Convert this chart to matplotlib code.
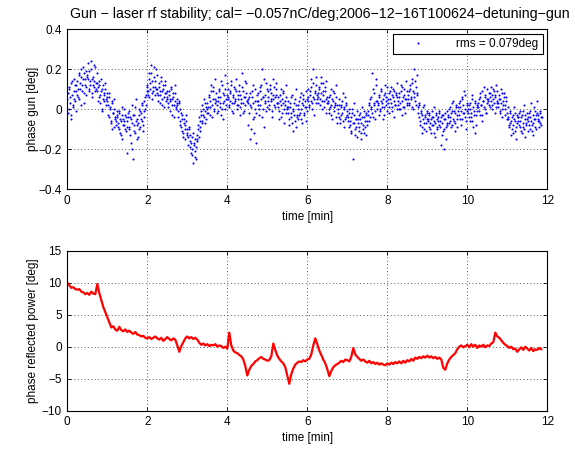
import numpy as np
import matplotlib
matplotlib.use("Agg")
import matplotlib.pyplot as plt

# =========================
# 0. Data
# =========================
title_txt = "Gun \u2212 laser rf stability; cal= \u22120.057nC/deg;2006\u221212\u221216T100624\u2212detuning\u2212gun"
legend_txt = "rms = 0.079deg"
t_end = 11.85  # last sample [min]

# gun phase [deg], 12 samples per 0.25 min
gun_phase = [
    0.05, -0.02, 0.10, 0.03, 0.13, -0.05, 0.07, 0.01, 0.15, 0.04, 0.09, 0.12,
    0.14, 0.06, 0.18, 0.10, 0.02, 0.16, 0.12, 0.21, 0.08, 0.15, 0.11, 0.19,
    0.17, 0.23, 0.10, 0.14, 0.20, 0.06, 0.15, 0.12, 0.22, 0.09, 0.13, 0.18,
    0.09, 0.04, 0.12, 0.07, 0.15, -0.01, 0.10, 0.05, 0.08, 0.13, 0.02, 0.06,
    0.04, -0.03, 0.08, 0.00, -0.06, 0.03, -0.10, -0.02, 0.05, -0.05, -0.08, -0.01,
    -0.04, -0.09, -0.01, -0.12, -0.06, 0.01, -0.15, -0.05, -0.08, -0.03, -0.11, -0.22,
    -0.06, -0.02, -0.10, -0.04, -0.17, 0.02, -0.07, -0.25, -0.03, -0.12, 0.05, -0.08,
    -0.05, -0.14, 0.00, -0.09, -0.02, -0.06, 0.03, -0.11, -0.01, 0.06, 0.02, 0.09,
    0.12, 0.07, 0.18, 0.10, 0.22, 0.05, 0.14, 0.09, 0.16, 0.11, 0.20, 0.08,
    0.10, 0.04, 0.13, 0.07, 0.16, 0.02, 0.09, 0.12, 0.06, 0.14, 0.08, 0.05,
    0.06, 0.01, 0.09, 0.04, 0.11, -0.03, 0.05, 0.08, 0.02, 0.12, 0.00, 0.03,
    0.02, -0.04, 0.04, -0.08, -0.02, -0.11, -0.05, -0.14, -0.07, -0.10, -0.03, -0.13,
    -0.12, -0.18, -0.09, -0.16, -0.22, -0.14, -0.20, -0.27, -0.17, -0.24, -0.19, -0.15,
    -0.13, -0.08, -0.04, -0.11, -0.01, -0.06, 0.02, -0.03, 0.05, -0.07, 0.01, -0.02,
    0.03, -0.02, 0.07, 0.01, 0.12, -0.04, 0.05, 0.09, 0.00, 0.15, 0.04, 0.02,
    0.06, -0.01, 0.10, 0.03, 0.14, 0.00, 0.08, -0.05, 0.04, 0.17, 0.02, 0.07,
    0.05, 0.10, 0.01, 0.08, 0.14, 0.03, 0.06, -0.02, 0.11, 0.04, 0.09, 0.00,
    0.07, 0.02, 0.12, -0.03, 0.05, 0.18, 0.03, 0.09, -0.01, 0.06, 0.13, 0.04,
    0.03, -0.08, 0.06, -0.15, 0.01, 0.09, -0.05, 0.12, -0.12, 0.04, -0.02, 0.07,
    0.02, 0.08, -0.03, 0.11, 0.05, 0.20, 0.00, 0.06, -0.09, 0.04, 0.13, 0.01,
    0.04, 0.09, 0.00, 0.12, 0.05, -0.04, 0.07, 0.15, 0.02, 0.06, 0.10, 0.03,
    0.01, 0.06, -0.05, 0.04, 0.10, -0.02, 0.03, 0.08, -0.07, 0.02, 0.12, 0.00,
    -0.02, 0.04, -0.08, 0.01, -0.04, 0.07, -0.11, -0.01, 0.03, -0.06, 0.10, -0.03,
    0.00, -0.05, 0.04, -0.02, 0.08, -0.07, 0.02, 0.05, -0.03, 0.01, 0.09, -0.01,
    0.04, 0.10, 0.01, 0.07, 0.15, 0.03, 0.20, 0.06, -0.03, 0.09, 0.12, 0.05,
    0.08, 0.03, 0.11, 0.05, 0.16, 0.00, 0.07, 0.13, 0.04, 0.09, -0.02, 0.06,
    0.03, -0.02, 0.06, 0.01, 0.10, -0.05, 0.04, 0.08, -0.01, 0.02, 0.12, -0.07,
    0.00, -0.04, 0.05, -0.07, 0.02, -0.02, 0.08, -0.09, 0.01, -0.05, 0.03, -0.03,
    -0.04, -0.09, 0.00, -0.06, -0.12, -0.02, -0.25, -0.07, 0.03, -0.10, -0.05, -0.14,
    -0.07, -0.03, -0.11, -0.05, -0.15, 0.01, -0.08, -0.12, -0.04, -0.09, -0.02, -0.06,
    -0.03, 0.02, -0.06, 0.05, 0.00, 0.18, -0.04, 0.08, 0.03, -0.01, 0.15, 0.04,
    0.02, -0.03, 0.06, 0.00, 0.10, 0.03, -0.05, 0.07, 0.01, 0.12, 0.04, -0.01,
    0.03, 0.08, -0.02, 0.05, 0.11, 0.01, 0.06, -0.04, 0.09, 0.02, 0.07, 0.13,
    0.04, 0.00, 0.08, 0.03, 0.12, -0.03, 0.06, 0.10, 0.01, 0.05, 0.14, 0.02,
    0.05, 0.09, 0.02, 0.12, 0.06, 0.15, 0.00, 0.08, 0.20, 0.04, 0.11, 0.07,
    0.01, -0.04, 0.03, -0.08, -0.02, -0.12, -0.05, 0.02, -0.10, -0.03, -0.07, -0.01,
    -0.05, -0.09, -0.02, -0.07, -0.12, -0.04, -0.08, 0.01, -0.06, -0.14, -0.03, -0.10,
    -0.04, -0.08, -0.01, -0.06, -0.18, -0.03, -0.11, -0.05, -0.20, -0.02, -0.09, -0.07,
    -0.03, -0.07, 0.01, -0.04, -0.09, -0.01, 0.04, -0.06, -0.02, -0.11, 0.02, -0.05,
    -0.01, 0.03, -0.05, 0.01, -0.08, 0.05, -0.02, 0.09, -0.04, 0.00, -0.10, 0.02,
    -0.02, 0.02, -0.06, 0.00, -0.04, 0.05, -0.09, -0.01, 0.03, -0.12, -0.03, 0.01,
    0.01, 0.05, -0.03, 0.08, 0.02, -0.06, 0.04, 0.11, 0.00, 0.06, -0.02, 0.03,
    0.04, 0.08, 0.01, 0.06, 0.11, 0.02, 0.05, 0.09, -0.02, 0.07, 0.12, 0.03,
    0.03, 0.07, -0.01, 0.05, 0.10, 0.00, 0.04, 0.08, -0.03, 0.02, 0.06, -0.02,
    -0.05, -0.09, -0.02, -0.07, -0.13, -0.04, -0.08, 0.01, -0.11, -0.06, -0.15, -0.03,
    -0.04, -0.08, -0.01, -0.06, -0.11, -0.03, -0.09, 0.02, -0.05, -0.14, -0.07, -0.02,
    -0.06, -0.02, -0.10, -0.04, 0.03, -0.08, -0.13, -0.05, -0.01, -0.09, -0.03, 0.04,
    -0.05, -0.09, -0.02, -0.07, -0.04,
]

# second half of the gun samples (sit between the ones above)
gun_phase_b = [
    0.08, 0.00, 0.11, 0.06, -0.03, 0.14, 0.02, 0.09, 0.05, 0.12, -0.01, 0.07,
    0.10, 0.17, 0.05, 0.13, 0.20, 0.09, 0.15, 0.03, 0.18, 0.12, 0.07, 0.16,
    0.15, 0.09, 0.19, 0.12, 0.24, 0.08, 0.16, 0.11, 0.14, 0.21, 0.10, 0.13,
    0.11, 0.06, 0.14, 0.03, 0.09, 0.00, 0.12, 0.07, 0.04, 0.10, 0.05, 0.08,
    0.02, 0.06, -0.04, 0.01, -0.07, 0.04, -0.02, -0.09, 0.00, -0.04, -0.06, -0.03,
    -0.07, -0.02, -0.10, -0.05, -0.13, -0.03, -0.08, 0.00, -0.06, -0.10, -0.04, -0.09,
    -0.04, -0.09, -0.01, -0.13, -0.05, -0.20, -0.03, -0.08, -0.11, 0.01, -0.06, -0.15,
    -0.07, -0.03, -0.10, -0.01, -0.05, 0.02, -0.08, -0.04, 0.04, 0.00, 0.07, 0.11,
    0.09, 0.15, 0.06, 0.13, 0.18, 0.08, 0.11, 0.21, 0.07, 0.14, 0.10, 0.17,
    0.07, 0.11, 0.03, 0.09, 0.14, 0.05, 0.10, 0.01, 0.08, 0.12, 0.04, 0.09,
    0.03, 0.07, -0.01, 0.05, 0.10, 0.02, 0.06, -0.04, 0.04, 0.08, 0.01, 0.05,
    -0.01, 0.03, -0.06, 0.00, -0.09, -0.03, -0.12, -0.05, -0.08, -0.15, -0.06, -0.10,
    -0.14, -0.10, -0.19, -0.13, -0.17, -0.23, -0.12, -0.18, -0.21, -0.15, -0.25, -0.16,
    -0.10, -0.14, -0.06, -0.09, -0.03, -0.07, 0.00, -0.04, -0.01, 0.03, -0.05, 0.00,
    0.01, 0.06, -0.03, 0.04, 0.09, 0.02, 0.11, -0.01, 0.05, 0.03, 0.08, -0.02,
    0.04, 0.09, 0.01, 0.06, -0.03, 0.12, 0.03, 0.07, 0.10, 0.00, 0.05, 0.13,
    0.06, 0.02, 0.09, 0.04, 0.12, -0.01, 0.07, 0.03, 0.10, 0.05, 0.15, 0.02,
    0.05, 0.09, 0.01, 0.07, 0.03, 0.11, -0.02, 0.06, 0.14, 0.02, 0.08, 0.04,
    0.05, -0.02, 0.08, 0.02, -0.10, 0.06, 0.03, -0.04, 0.10, 0.00, -0.17, 0.04,
    0.04, 0.00, 0.09, 0.02, 0.12, -0.04, 0.06, 0.15, 0.03, 0.07, -0.01, 0.10,
    0.06, 0.02, 0.10, 0.04, 0.08, -0.01, 0.05, 0.11, 0.01, 0.07, 0.13, 0.03,
    0.03, -0.01, 0.07, 0.02, -0.04, 0.05, 0.09, 0.00, 0.04, -0.02, 0.06, 0.01,
    0.01, -0.05, 0.03, -0.02, 0.06, -0.07, 0.00, -0.03, 0.05, -0.09, 0.02, -0.04,
    0.02, -0.03, 0.06, 0.00, -0.05, 0.03, 0.07, -0.02, 0.04, -0.06, 0.01, 0.05,
    0.06, 0.02, 0.09, 0.04, 0.11, 0.00, 0.13, 0.05, 0.08, 0.16, 0.03, 0.07,
    0.06, 0.10, 0.02, 0.08, 0.13, 0.04, 0.09, 0.01, 0.11, 0.05, 0.14, 0.03,
    0.04, 0.00, 0.07, 0.02, -0.03, 0.05, 0.09, 0.01, 0.03, -0.04, 0.06, 0.02,
    -0.02, 0.02, -0.05, 0.01, -0.03, 0.04, -0.06, 0.00, 0.06, -0.04, 0.02, -0.01,
    -0.06, -0.02, -0.08, -0.04, -0.11, 0.00, -0.07, -0.03, -0.13, -0.05, -0.09, -0.01,
    -0.05, -0.09, -0.02, -0.07, -0.12, -0.04, -0.10, -0.01, -0.06, -0.13, -0.03, -0.08,
    -0.01, 0.03, -0.04, 0.01, 0.06, -0.02, 0.10, 0.02, -0.05, 0.04, 0.12, 0.00,
    0.03, 0.07, -0.01, 0.04, 0.09, 0.01, 0.05, -0.03, 0.08, 0.02, 0.06, 0.11,
    0.05, 0.01, 0.09, 0.03, 0.07, -0.01, 0.10, 0.04, 0.02, 0.08, 0.00, 0.06,
    0.02, 0.06, 0.00, 0.09, 0.04, 0.11, 0.01, 0.07, -0.02, 0.05, 0.09, 0.03,
    0.07, 0.03, 0.10, 0.05, 0.13, 0.01, 0.09, 0.06, 0.14, 0.02, 0.08, 0.17,
    -0.02, 0.02, -0.06, -0.01, -0.09, -0.03, 0.01, -0.07, -0.04, -0.11, -0.02, -0.05,
    -0.06, -0.03, -0.10, -0.05, -0.01, -0.08, -0.04, -0.12, -0.07, -0.02, -0.09, -0.05,
    -0.06, -0.02, -0.09, -0.04, -0.13, -0.07, -0.03, -0.10, -0.05, -0.15, -0.01, -0.08,
    -0.04, 0.00, -0.06, -0.02, -0.08, 0.03, -0.05, -0.01, -0.07, 0.01, -0.03, -0.09,
    0.01, -0.03, 0.04, -0.01, 0.06, -0.05, 0.02, -0.02, 0.07, -0.06, 0.03, -0.01,
    0.00, -0.04, 0.03, -0.02, 0.07, -0.06, 0.01, -0.03, 0.04, -0.08, 0.02, -0.01,
    0.03, -0.01, 0.06, 0.02, 0.09, -0.03, 0.04, 0.01, 0.07, -0.02, 0.05, 0.10,
    0.05, 0.02, 0.08, 0.04, 0.00, 0.07, 0.10, 0.03, 0.06, 0.01, 0.09, 0.04,
    0.01, 0.05, -0.02, 0.03, 0.08, -0.04, 0.02, 0.06, 0.00, 0.04, -0.05, 0.01,
    -0.04, -0.08, -0.01, -0.06, -0.10, -0.03, -0.12, -0.05, -0.02, -0.09, -0.07, -0.04,
    -0.06, -0.02, -0.09, -0.04, -0.12, -0.01, -0.07, -0.10, -0.03, -0.08, -0.05, -0.11,
    -0.04, -0.08, -0.01, -0.06, -0.11, -0.03, -0.07, 0.01, -0.05, -0.10, -0.02, -0.06,
    -0.03, -0.06, -0.01, -0.08, -0.04,
]

# reflected power phase [deg], one sample per 0.05 min
refl_phase = [
    10.0, 9.6, 9.2, 9.3, 9.0, 8.9, 9.0, 8.6, 8.5, 8.2, 8.4, 8.1, 8.6, 8.3, 8.2, 9.8,
    8.4, 7.3, 6.2, 5.4, 4.6, 3.8, 3.0, 3.2, 2.7, 2.5, 3.1, 2.6, 2.4, 2.7, 2.3, 2.5,
    2.2, 2.0, 2.3, 1.9, 1.8, 1.6, 1.7, 1.4, 1.3, 1.5, 1.2, 1.4, 1.6, 1.3, 1.1, 1.4,
    0.9, 1.2, 1.5, 1.2, 1.0, 1.3, 1.1, 0.2, -0.8, 0.1, 0.7, 1.3, 1.6, 1.3, 1.5, 1.2,
    1.4, 1.1, 0.6, 0.3, 0.5, 0.2, 0.4, 0.1, 0.3, 0.2, 0.4, 0.0, 0.2, 0.1, -0.2, 0.0,
    -0.3, 2.2, 0.2, -0.6, -0.9, -1.0, -1.3, -1.5, -2.0, -3.0, -4.5, -3.6, -3.0, -2.7, -2.3, -2.1,
    -1.8, -1.6, -1.9, -2.0, -2.2, -2.1, -1.5, 0.5, -0.5, -1.4, -1.9, -2.3, -2.6, -3.2, -4.5, -5.8,
    -4.3, -3.4, -2.8, -2.5, -2.3, -2.4, -2.1, -2.3, -2.0, -1.9, -1.2, 0.2, 1.3, 0.4, -0.6, -1.3,
    -2.0, -2.6, -3.5, -4.6, -3.8, -3.2, -2.9, -2.7, -2.5, -2.2, -2.4, -2.0, -2.1, -2.3, -1.6, -0.2,
    -1.2, -1.6, -1.9, -2.2, -2.0, -2.3, -2.5, -2.2, -2.6, -2.4, -2.7, -2.5, -2.8, -2.6, -2.8, -2.9,
    -2.6, -2.8, -2.5, -2.7, -2.4, -2.6, -2.3, -2.6, -2.2, -2.5, -2.1, -2.3, -1.9, -2.2, -1.7, -1.9,
    -1.6, -1.8, -1.5, -1.7, -1.4, -1.7, -1.5, -1.8, -1.6, -1.9, -1.7, -2.0, -3.3, -3.6, -2.6, -2.0,
    -1.6, -1.3, -1.0, -0.4, 0.0, 0.2, -0.1, 0.1, 0.3, -0.1, 0.4, 0.0, 0.3, -0.2, 0.2, 0.0,
    0.3, -0.1, 0.2, 0.1, 0.5, 0.7, 2.2, 1.6, 1.4, 1.0, 0.6, 0.3, 0.1, -0.2, 0.0, -0.4,
    -0.3, -0.8, -0.4, -0.1, -0.5, 0.0, -0.3, -0.6, -0.2, -0.7, -0.4, -0.5, -0.2, -0.4,
]

t_gun = np.linspace(0, t_end, len(gun_phase))
t_gun_b = t_gun + (t_gun[1] - t_gun[0]) / 2
t_refl = np.linspace(0, t_end, len(refl_phase))

# =========================
# 1. Style
# =========================
plt.rcParams['font.family'] = ['Liberation Sans', 'DejaVu Sans']
plt.rcParams['font.size'] = 8.5
plt.rcParams['axes.linewidth'] = 0.8


def matlab_axes(ax):
    ax.tick_params(direction='in', top=True, right=True, length=3, width=0.6, pad=4)
    ax.grid(True, linestyle=(0, (1, 2.5)), color='0.35', linewidth=0.7)
    ax.set_axisbelow(True)
    ax.set_xlim(0, 12)
    ax.set_xticks(np.arange(0, 13, 2))
    ax.set_xlabel('time [min]', labelpad=3)
    ax.yaxis.set_label_coords(-0.058, 0.5)


fig = plt.figure(figsize=(5.75, 4.49), dpi=100)
ax1 = fig.add_axes([67.3 / 575, 1 - 189.3 / 449, 480 / 575, 160 / 449])
ax2 = fig.add_axes([67.3 / 575, 1 - 410.7 / 449, 480 / 575, 160 / 449])

# =========================
# 2. Top: gun phase
# =========================
ax1.plot(t_gun, gun_phase, '.', color='#0000ff', markersize=3.0, markeredgewidth=0,
         label=legend_txt)
ax1.plot(t_gun_b, gun_phase_b, '.', color='#0000ff', markersize=3.0, markeredgewidth=0)
ax1.set_ylim(-0.4, 0.4)
ax1.set_yticks([-0.4, -0.2, 0, 0.2, 0.4])
ax1.set_yticklabels(['\u22120.4', '\u22120.2', '0', '0.2', '0.4'])
ax1.set_ylabel('phase gun [deg]')
matlab_axes(ax1)
ax1.set_title(title_txt, fontsize=10.2, pad=8, x=0.526)
leg = ax1.legend(loc='upper right', fancybox=False, framealpha=1, edgecolor='black',
                 handlelength=3.5, handletextpad=1.5, borderpad=0.35,
                 borderaxespad=0.4, markerscale=1.0)
leg.get_frame().set_linewidth(0.8)

# =========================
# 3. Bottom: reflected power phase
# =========================
ax2.plot(t_refl, refl_phase, '-', color='#ff0000', linewidth=1.6)
ax2.set_ylim(-10, 15)
ax2.set_yticks([-10, -5, 0, 5, 10, 15])
ax2.set_ylabel('phase reflected power [deg]')
matlab_axes(ax2)

fig.savefig('out.png', dpi=100)
